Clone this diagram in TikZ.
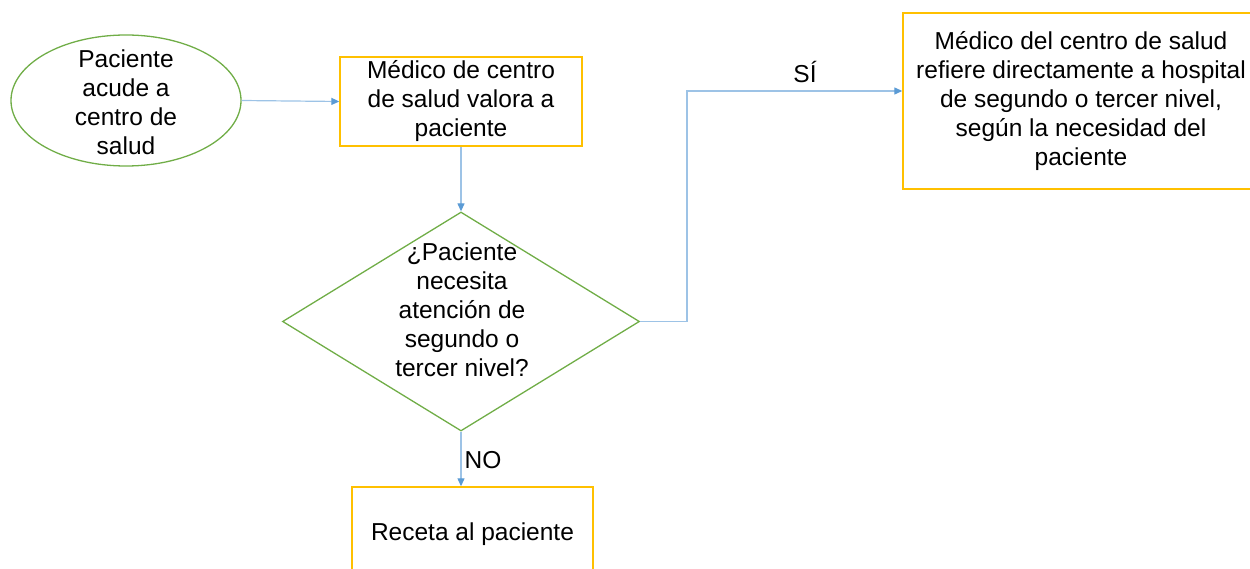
\documentclass[tikz,border=0pt]{standalone}
\usepackage{fontspec}
\setmainfont{Liberation Sans}
\usetikzlibrary{shapes.geometric,arrows.meta}
\definecolor{boxyellow}{HTML}{FFC000}
\definecolor{shapegreen}{HTML}{70AD47}
\definecolor{linkblue}{HTML}{9DC3E6}
\definecolor{tipblue}{HTML}{5B9BD5}
\begin{document}
\begin{tikzpicture}[x=1pt,y=-1pt,
  txt/.style={font=\fontsize{24.5}{29}\selectfont, align=center, inner sep=0pt},
  procbox/.style={draw=boxyellow, line width=1.4pt, rectangle, inner sep=0pt, font=\fontsize{24.5}{29}\selectfont, align=center},
  startell/.style={draw=shapegreen, line width=1.3pt, ellipse, inner sep=0pt},
  decision/.style={draw=shapegreen, line width=1.3pt, diamond, inner sep=0pt},
  link/.style={draw=linkblue, line width=1.2pt, -{Triangle[length=8pt,width=7pt,color=tipblue]}}]
\useasboundingbox (0,0) rectangle (1250,569);
\clip (0,0) rectangle (1250,569);
% shapes
\node[startell, minimum width=230pt, minimum height=131pt] (start) at (126,100.5) {};
\node[txt] (starttxt) at (126,102) {Paciente\\acude a\\centro de\\salud};
\node[procbox, minimum width=242pt, minimum height=89pt] (valora) at (461,101.5) {Médico de centro\\de salud valora a\\paciente};
\node[decision, minimum width=357pt, minimum height=219pt] (dec) at (461,321.5) {};
\node[txt] (dectxt) at (462,310) {¿Paciente\\necesita\\atención de\\segundo o\\tercer nivel?};
\node[procbox, minimum width=356pt, minimum height=176pt] (refiere) at (1081,101) {Médico del centro de salud\\refiere directamente a hospital\\de segundo o tercer nivel,\\según la necesidad del\\paciente};
\node[procbox, minimum width=241pt, minimum height=94pt] (receta) at (472.5,534) {Receta al paciente};
% connectors
\draw[link] (start.east) -- (valora.west);
\draw[link] (valora.south) -- (dec.north);
\coordinate (bend) at (687,91);
\draw[link] (dec.east) -| (bend) -- (bend -| refiere.west);
\draw[link] (dec.south) -- (dec.south |- receta.north);
% labels
\node[txt] (si) at (805,72) {SÍ};
\node[txt] (no) at (483,460) {NO};
\end{tikzpicture}
\end{document}
